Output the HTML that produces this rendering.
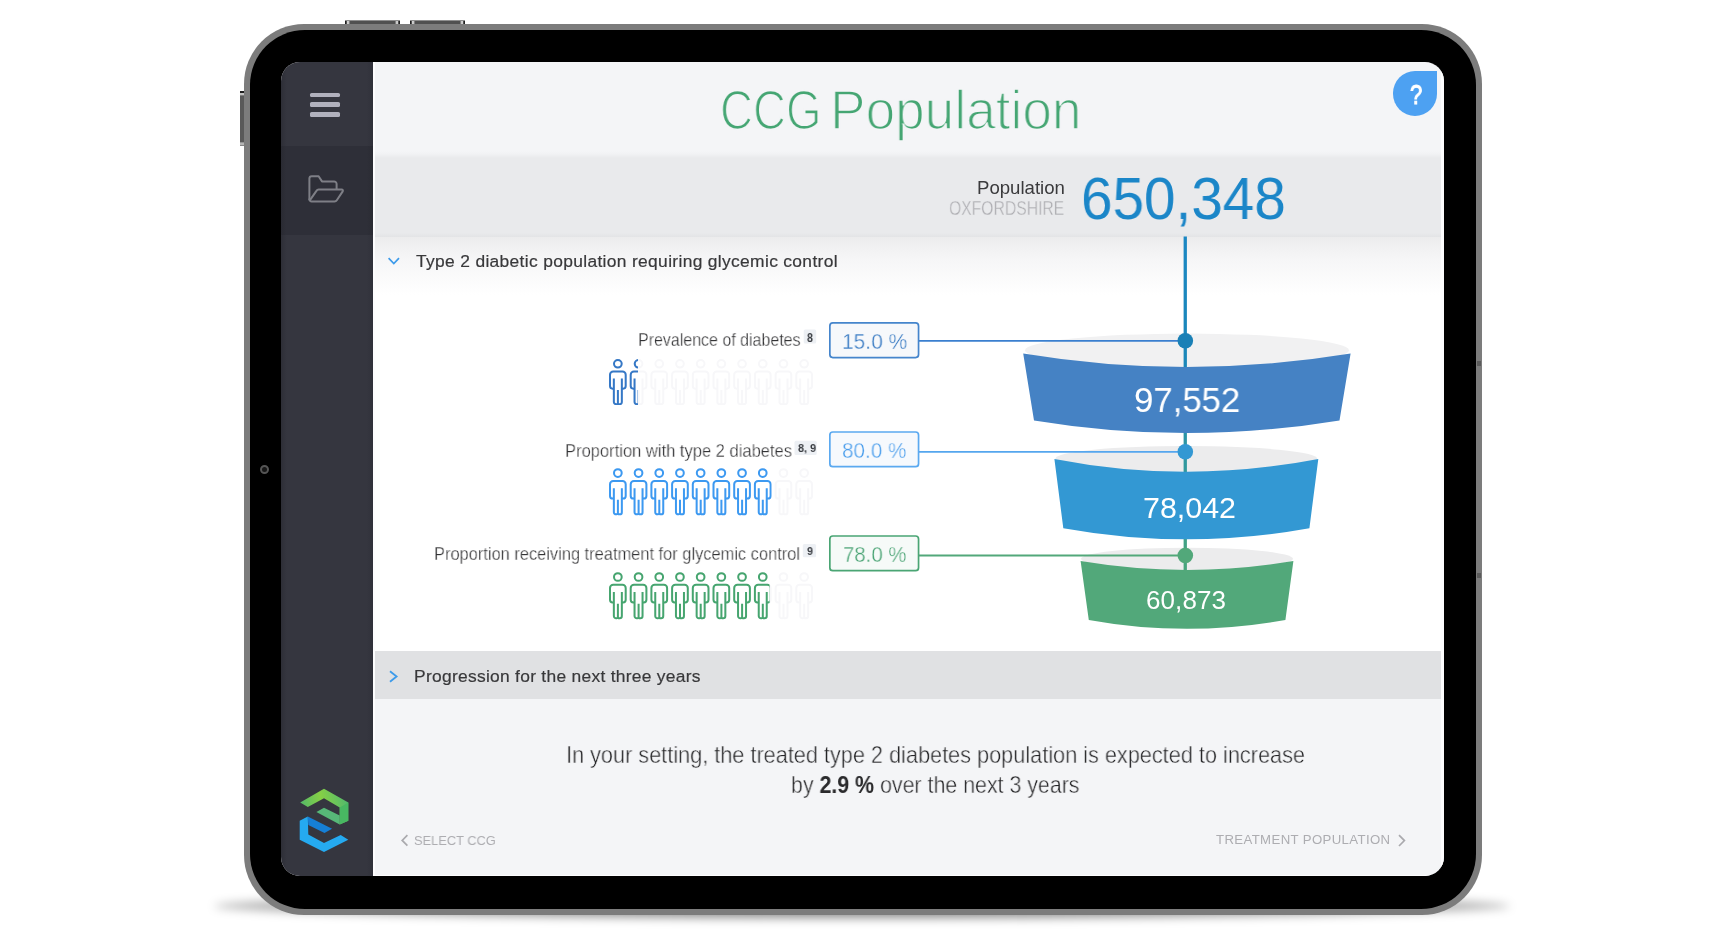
<!DOCTYPE html>
<html>
<head>
<meta charset="utf-8">
<title>CCG Population</title>
<style>
html,body{margin:0;padding:0;}
body{width:1720px;height:946px;position:relative;overflow:hidden;background:#fff;font-family:"Liberation Sans",sans-serif;}
.abs{position:absolute;}
.t b{-webkit-text-stroke:0 transparent;color:#2a2a2c;}
.t{position:absolute;white-space:nowrap;line-height:1;will-change:transform;}
/* device */
#shadow{left:214px;top:893px;width:1296px;height:26px;border-radius:50%;background:radial-gradient(ellipse at center,rgba(0,0,0,.55) 0%,rgba(0,0,0,.38) 55%,rgba(0,0,0,0) 100%);filter:blur(5px);}
.btn{background:linear-gradient(#8e8e8e 0,#8e8e8e .7px,rgba(0,0,0,0) .9px),linear-gradient(90deg,#1e1e1e 0,#1e1e1e 1.3px,#cfcfcf 2px,#cfcfcf 3.4px,#505050 5.2px,#505050 calc(100% - 5.2px),#cfcfcf calc(100% - 3.4px),#cfcfcf calc(100% - 2px),#1e1e1e calc(100% - 1.3px),#1e1e1e 100%);}
.btnv{background:linear-gradient(#1c1c1c 0,#1c1c1c 1.6px,#c4c4c4 2.4px,#c4c4c4 3.6px,#595959 5px,#595959 calc(100% - 4.4px),#b4b4b4 calc(100% - 3px),#b4b4b4 calc(100% - 1.4px),#6a6a6a 100%);}
#outer{left:244px;top:24.4px;width:1237.8px;height:890.2px;border-radius:60px;background:#7c7c7c;}
#black{left:249.5px;top:29.7px;width:1226.7px;height:879.1px;border-radius:55px;background:#000;}
#cam{left:260px;top:464.9px;width:5px;height:5px;border-radius:50%;border:2.5px solid #555;background:#161616;}
#screen{left:281px;top:62px;width:1162.8px;height:814.3px;border-radius:19px;overflow:hidden;background:#f4f5f7;}
/* inside screen: coordinates are page coords minus (281,62) via wrapper */
#in{position:absolute;left:-281px;top:-62px;width:1720px;height:946px;}
#side{left:281px;top:62px;width:91.5px;height:815px;background:linear-gradient(90deg,#2d2e36 0,#33343d 4px,#35363f 6px,#35363f 86px,#30313a 91.5px);}
#sideact{left:281px;top:146px;width:91.5px;height:89px;background:linear-gradient(90deg,#292a32 0,#2e2f38 5px,#2e2f38 86px,#2a2b33 91.5px);}
.hb{left:310.4px;width:29.6px;height:4.8px;border-radius:1.6px;background:#b1b1bd;}
#sideedge{left:372.5px;top:62px;width:2.5px;height:815px;background:#fdfdfe;}
#band{left:375px;top:151px;width:1070px;height:86px;background:linear-gradient(#f4f5f7 0,#f1f2f4 3px,#e9eaec 7px,#e9eaec 82px,#e3e4e6 86px);}
#secgrad{left:375px;top:237px;width:1070px;height:60px;background:linear-gradient(#ececed 0,#f6f6f7 22px,#fff 58px);}
#white{left:375px;top:296px;width:1070px;height:355px;background:#fff;}
#prog{left:375px;top:651px;width:1070px;height:48px;background:#e0e1e3;}
</style>
</head>
<body>
<div id="shadow" class="abs"></div>
<!-- hardware buttons -->
<div class="abs btn" style="left:345.2px;top:20.4px;width:54.6px;height:8px;"></div>
<div class="abs btn" style="left:410.2px;top:20.4px;width:54.6px;height:8px;"></div>
<div class="abs btnv" style="left:240.1px;top:91px;width:8px;height:55px;"></div>
<div id="outer" class="abs"></div>
<div id="black" class="abs"></div>
<div id="cam" class="abs"></div>
<div class="abs" style="left:1476.5px;top:361px;width:4px;height:5px;background:#5c5c5c;"></div>
<div class="abs" style="left:1476.5px;top:573px;width:4px;height:5px;background:#5c5c5c;"></div>

<div id="screen" class="abs"><div id="in">
  <div id="side" class="abs"></div>
  <div id="sideact" class="abs"></div>
  <div class="abs hb" style="top:92.6px;"></div>
  <div class="abs hb" style="top:102.3px;"></div>
  <div class="abs hb" style="top:112.1px;"></div>
  <div id="sideedge" class="abs"></div>
  <div id="band" class="abs"></div>
  <div id="secgrad" class="abs"></div>
  <div id="white" class="abs"></div>
  <div id="prog" class="abs"></div>
  <svg class="abs" style="left:0;top:0" width="1720" height="946" viewBox="0 0 1720 946">
<defs>
  <linearGradient id="vl" x1="0" y1="236" x2="0" y2="570" gradientUnits="userSpaceOnUse">
    <stop offset="0" stop-color="#1b87c3"/><stop offset="0.4" stop-color="#1b87b8"/><stop offset="0.62" stop-color="#2c96a4"/><stop offset="1" stop-color="#48a57c"/>
  </linearGradient>
  <linearGradient id="lg1" x1="300" y1="806" x2="348" y2="795" gradientUnits="userSpaceOnUse">
    <stop offset="0" stop-color="#52b86a"/><stop offset="0.45" stop-color="#86cf45"/><stop offset="1" stop-color="#4fb870"/>
  </linearGradient>
  <g id="p" fill="none" stroke-width="2" stroke-linecap="butt" stroke-linejoin="round">
    <circle cx="8.8" cy="4.8" r="3.85"/>
    <path d="M4.8,30.3 H3.6 a2.65,2.65 0 0 1 -2.65,-2.65 V15.9 a3.25,3.25 0 0 1 3.25,-3.25 H13.4 a3.25,3.25 0 0 1 3.25,3.25 V27.65 a2.65,2.65 0 0 1 -2.65,2.65 H12.8"/>
    <path d="M4.8,19.9 V43.9 a2.2,2.2 0 0 0 2.2,2.2 H7.6 a1.25,1.25 0 0 0 1.25,-1.25 V31.6 M8.85,44.85 a1.25,1.25 0 0 0 1.25,1.25 H10.6 a2.2,2.2 0 0 0 2.2,-2.2 V19.9"/>
  </g>
  <g id="prow">
    <use href="#p" x="0"/><use href="#p" x="20.7"/><use href="#p" x="41.4"/><use href="#p" x="62.1"/><use href="#p" x="82.8"/>
    <use href="#p" x="103.5"/><use href="#p" x="124.2"/><use href="#p" x="144.9"/><use href="#p" x="165.6"/><use href="#p" x="186.3"/>
  </g>
  <clipPath id="c1"><rect x="600" y="350" width="38.1" height="70"/></clipPath>
  <clipPath id="c2"><rect x="600" y="460" width="171.8" height="70"/></clipPath>
  <clipPath id="c3"><rect x="600" y="565" width="169.6" height="70"/></clipPath>
</defs>

<!-- funnel ellipses -->
<ellipse cx="1187" cy="350.3" rx="162" ry="16.7" fill="#f1f1f2"/>
<ellipse cx="1186.3" cy="458.8" rx="131" ry="12.9" fill="#ececed"/>
<ellipse cx="1187" cy="558.8" rx="106" ry="11.1" fill="#ececed"/>
<!-- vertical line -->
<rect x="1183.6" y="236.5" width="3.3" height="334" fill="url(#vl)"/>
<!-- funnels -->
<path d="M1023.2,353.5 Q1186,380.5 1350.6,353.5 L1339.5,420.4 Q1186,445.6 1034,420.4 Z" fill="#4582c4"/>
<path d="M1054.4,458.9 Q1186,484.5 1318.3,458.9 L1309.4,528.2 Q1186,550.4 1063.3,528.2 Z" fill="#3398d3"/>
<path d="M1080.6,561 Q1187,578.8 1293.4,561 L1285.4,619.9 Q1187,637.7 1088.8,619.9 Z" fill="#52a87a"/>
<!-- connectors -->
<line x1="919" y1="340.8" x2="1185" y2="340.8" stroke="#3a7fcf" stroke-width="1.8"/>
<line x1="919" y1="451.8" x2="1185" y2="451.8" stroke="#55a6ee" stroke-width="1.8"/>
<line x1="919" y1="555.5" x2="1185" y2="555.5" stroke="#52a87a" stroke-width="1.8"/>
<circle cx="1185.3" cy="340.8" r="7.8" fill="#1a80b6"/>
<circle cx="1185.3" cy="451.8" r="7.8" fill="#3398d3"/>
<circle cx="1185.3" cy="555.5" r="7.8" fill="#52a87a"/>
<!-- input boxes -->
<rect x="829.85" y="322.9" width="88.7" height="34.7" rx="3" fill="#f6f8fb" stroke="#4585cc" stroke-width="1.7"/>
<rect x="829.85" y="432" width="88.7" height="34.7" rx="3" fill="#f6f9fd" stroke="#5ba9f0" stroke-width="1.7"/>
<rect x="829.85" y="536" width="88.7" height="34.7" rx="3" fill="#f6faf8" stroke="#4aa574" stroke-width="1.7"/>
<!-- badges -->
<rect x="803.7" y="329.5" width="12.5" height="14" rx="1.5" fill="#edf0f4"/>
<rect x="794.5" y="440.8" width="22.2" height="14.2" rx="1.5" fill="#edf0f4"/>
<rect x="802.8" y="544" width="13.3" height="13.2" rx="1.5" fill="#edf0f4"/>
<!-- people -->
<g stroke="#f7f7f9"><use href="#prow" transform="translate(609.05,359.1) scale(1,0.977)"/></g>
<g stroke="#f7f7f9"><use href="#prow" transform="translate(609.05,468.25)"/></g>
<g stroke="#f7f7f9"><use href="#prow" transform="translate(609.05,572.2)"/></g>
<g clip-path="url(#c1)"><g stroke="#3578c6"><use href="#prow" transform="translate(609.05,359.1) scale(1,0.977)"/></g></g>
<g clip-path="url(#c2)"><g stroke="#3c99f1"><use href="#prow" transform="translate(609.05,468.25)"/></g></g>
<g clip-path="url(#c3)"><g stroke="#46a56f"><use href="#prow" transform="translate(609.05,572.2)"/></g></g>
<!-- chevrons -->
<polyline points="388.6,258.2 393.8,263.6 399,258.2" fill="none" stroke="#3d9bea" stroke-width="1.7"/>
<polyline points="390,671.2 396.6,676.5 390,681.8" fill="none" stroke="#3d9bea" stroke-width="1.8"/>
<polyline points="407.4,835.2 402.2,840.4 407.4,845.6" fill="none" stroke="#aaaaae" stroke-width="1.7"/>
<polyline points="1399,835.2 1404.4,840.6 1399,846" fill="none" stroke="#aaaaae" stroke-width="1.7"/>
<!-- folder -->
<g fill="none" stroke="#7e7f86" stroke-width="2" stroke-linejoin="round" stroke-linecap="round">
  <path d="M309.4,199.5 V178.6 a2.4,2.4 0 0 1 2.4,-2.4 H318.6 L322,181.4 H334 a2.6,2.6 0 0 1 2.6,2.6 V189"/>
  <path d="M309.8,200.4 L316.6,190.6 a2.6,2.6 0 0 1 2.1,-1.2 H341.6 a1.3,1.3 0 0 1 1.1,2 L336.8,200.2 a2.8,2.8 0 0 1 -2.3,1.3 H311.6 a2.2,2.2 0 0 1 -2.2,-2.2"/>
</g>
<!-- logo -->
<polygon points="300.2,802.4 324,788.8 348.3,802.6 348.3,820.7 339.7,824.5 339.7,807.4 324,798.3 307.8,806.9" fill="url(#lg1)"/>
<polygon points="339.7,807.4 348.3,802.6 348.3,820.7 339.7,824.5" fill="#48b862"/>
<polygon points="324,807.8 339.7,815.4 339.7,824.5 316.4,812.1" fill="#57b878"/>
<polygon points="299.7,820.7 307.8,816.4 308.3,834.5 324,843 340.7,834.9 348.3,839.7 324,852.1 299.7,839.7" fill="#25aaf0"/>
<polygon points="307.8,816.4 332.1,828.8 324.5,833 308.3,825" fill="#167fd6"/>
</svg>
<div class="abs" style="left:1392.8px;top:71.4px;width:44.2px;height:44.4px;background:#4da1f2;border-radius:50% 0 50% 50%;"></div>

  <div class="abs" style="left:1441px;top:62px;width:3px;height:815px;background:#fdfdfe;"></div>
<div class="abs" style="left:375px;top:874.6px;width:1070px;height:2px;background:#fdfdfe;"></div>
<!--TS-->
<div class="t" id="title1" style="left:720.18px;top:82.90px;font-size:55px;color:#45a673;transform:scaleX(0.8298);transform-origin:0 0;-webkit-text-stroke:1.6px #f4f5f7;">CCG</div>
<div class="t" id="title2" style="left:830.19px;top:82.90px;font-size:55px;color:#45a673;transform:scaleX(0.9676);transform-origin:0 0;-webkit-text-stroke:1.6px #f4f5f7;">Population</div>
<div class="t" id="pop" style="left:976.96px;top:178.91px;font-size:18.6px;color:#3a3a3c;">Population</div>
<div class="t" id="oxf" style="left:948.83px;top:198.67px;font-size:19.4px;color:#aeaeb2;transform:scaleX(0.8101);transform-origin:0 0;-webkit-text-stroke:0.3px #e9eaec;">OXFORDSHIRE</div>
<div class="t" id="big" style="left:1081.00px;top:169.08px;font-size:59.2px;color:#1b86c8;transform:scaleX(0.9574);transform-origin:0 0;">650,348</div>
<div class="t" id="sec1" style="left:415.76px;top:252.81px;font-size:17.4px;color:#38383a;letter-spacing:0.336px;-webkit-text-stroke:0.2px #38383a;">Type 2 diabetic population requiring glycemic control</div>
<div class="t" id="lab1" style="left:638.25px;top:331.97px;font-size:17.9px;color:#333335;transform:scaleX(0.8930);transform-origin:0 0;-webkit-text-stroke:0.3px #fff;">Prevalence of diabetes</div>
<div class="t" id="lab2" style="left:564.71px;top:442.86px;font-size:17.9px;color:#333335;transform:scaleX(0.9241);transform-origin:0 0;-webkit-text-stroke:0.3px #fff;">Proportion with type 2 diabetes</div>
<div class="t" id="lab3" style="left:433.83px;top:546.40px;font-size:17.9px;color:#333335;transform:scaleX(0.9179);transform-origin:0 0;-webkit-text-stroke:0.3px #fff;">Proportion receiving treatment for glycemic control</div>
<div class="t" id="val1" style="left:842.00px;top:330.83px;font-size:21.7px;color:#3578c2;transform:scaleX(0.9651);transform-origin:0 0;-webkit-text-stroke:0.35px #f5f7fa;">15.0 %</div>
<div class="t" id="val2" style="left:842.12px;top:440.03px;font-size:21.7px;color:#4a9dec;transform:scaleX(0.9532);transform-origin:0 0;-webkit-text-stroke:0.35px #f5f8fc;">80.0 %</div>
<div class="t" id="val3" style="left:843.21px;top:543.53px;font-size:21.7px;color:#43a06f;transform:scaleX(0.9393);transform-origin:0 0;-webkit-text-stroke:0.35px #f5f9f7;">78.0 %</div>
<div class="t" id="f1" style="left:1134.26px;top:381.77px;font-size:35px;color:#fff;transform:scaleX(0.9930);transform-origin:0 0;">97,552</div>
<div class="t" id="f2" style="left:1142.68px;top:491.96px;font-size:30.4px;color:#fff;">78,042</div>
<div class="t" id="f3" style="left:1146.13px;top:587.19px;font-size:26px;color:#fff;letter-spacing:0.098px;">60,873</div>
<div class="t" id="progt" style="left:414.21px;top:667.81px;font-size:17.4px;color:#38383a;letter-spacing:0.288px;-webkit-text-stroke:0.2px #38383a;">Progression for the next three years</div>
<div class="t" id="para1" style="left:566.08px;top:744.08px;font-size:23.2px;color:#252527;transform:scaleX(0.9352);transform-origin:0 0;-webkit-text-stroke:0.45px #f4f5f7;">In your setting, the treated type 2 diabetes population is expected to increase</div>
<div class="t" id="para2" style="left:791.29px;top:774.38px;font-size:23.2px;color:#252527;transform:scaleX(0.9211);transform-origin:0 0;-webkit-text-stroke:0.45px #f4f5f7;">by <b>2.9 %</b> over the next 3 years</div>
<div class="t" id="nav1" style="left:414.27px;top:833.92px;font-size:13.2px;color:#adadb1;transform:scaleX(0.9732);transform-origin:0 0;">SELECT CCG</div>
<div class="t" id="nav2" style="left:1216.15px;top:833.03px;font-size:13.2px;color:#adadb1;letter-spacing:0.372px;">TREATMENT POPULATION</div>
<div class="t" id="help" style="left:1409.73px;top:80.93px;font-size:27.6px;color:#fff;transform:scaleX(0.7951);transform-origin:0 0;-webkit-text-stroke:1.1px #fff;">?</div>
<div class="t" id="b1" style="left:806.89px;top:330.72px;font-size:13.2px;color:#3a3d42;transform:scaleX(0.7939);transform-origin:0 0;font-weight:bold;">8</div>
<div class="t" id="b2" style="left:798.30px;top:442.38px;font-size:11.6px;color:#3a3d42;transform:scaleX(0.9276);transform-origin:0 0;font-weight:bold;">8, 9</div>
<div class="t" id="b3" style="left:806.55px;top:545.39px;font-size:11.7px;color:#3a3d42;transform:scaleX(0.9091);transform-origin:0 0;font-weight:bold;">9</div>
<!--TE-->
</div></div>
</body>
</html>
